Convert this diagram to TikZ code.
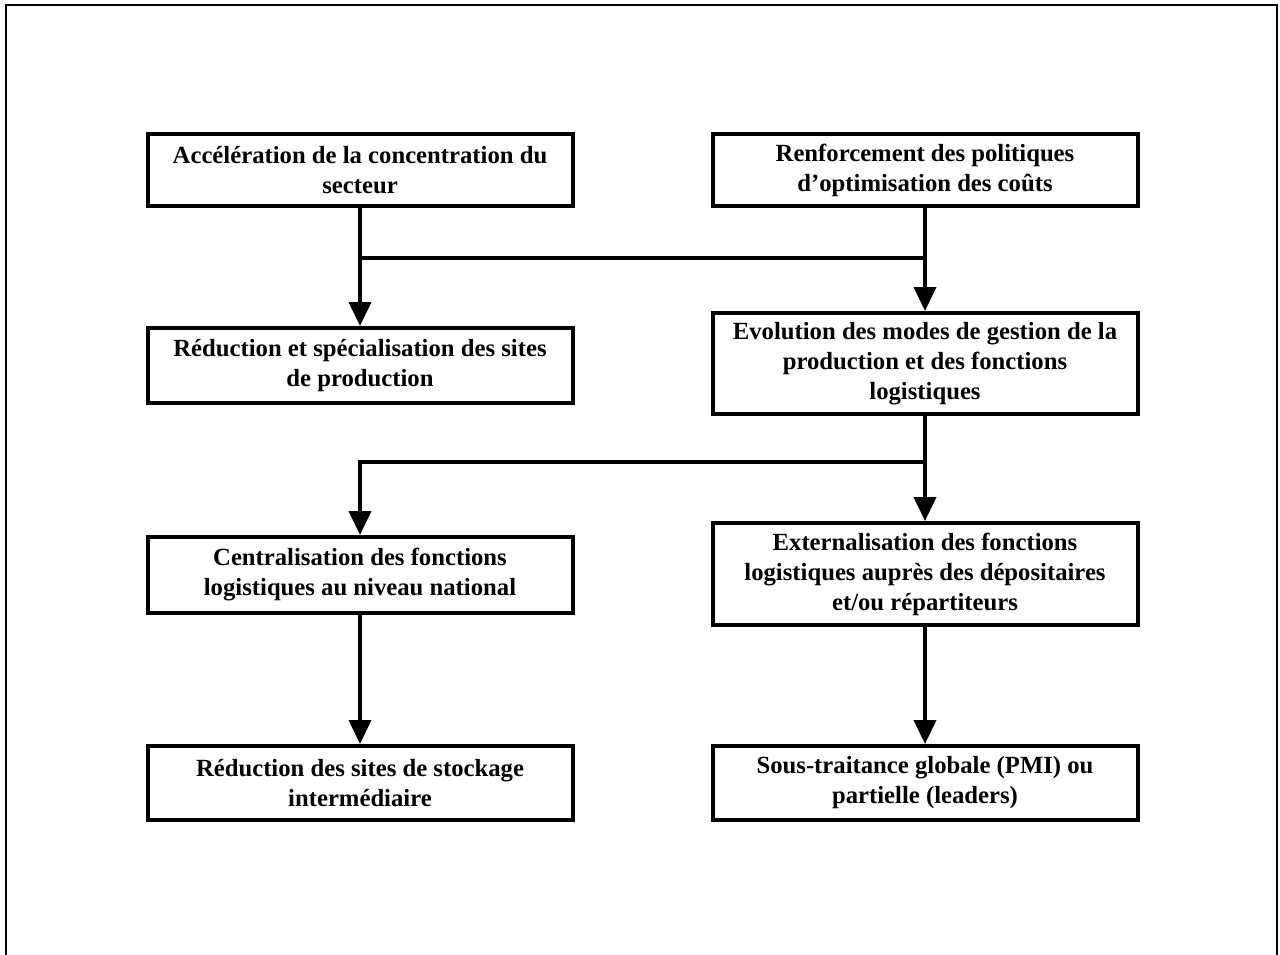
\documentclass[tikz,border=0pt]{standalone}
\usepackage{fontspec}
\setmainfont{Liberation Serif}
\usetikzlibrary{arrows.meta}

\begin{document}
\begin{tikzpicture}[x=1pt,y=-1pt,
  box/.style={draw, line width=4pt, minimum width=425pt, inner sep=0pt,
    align=center, font=\fontsize{24.7}{30}\selectfont\bfseries},
  link/.style={line width=4pt},
  flow/.style={line width=4pt, -{Triangle[width=22pt,length=24pt]}}]

\useasboundingbox (0,0) rectangle (1280,955);

% outer frame (open at the bottom)
\draw[line width=1.5pt] (6,955) -- (6,5) -- (1277,5) -- (1277,955);

% boxes
\node[box, minimum height=72pt]  (acc) at (360,170)   {Accélération de la concentration du\\secteur};
\node[box, minimum height=72pt]  (ren) at (925,170)   {Renforcement des politiques\\d’optimisation des coûts};
\node[box, minimum height=75pt]  (red) at (360,365.5) {Réduction et spécialisation des sites\\de production};
\node[box, minimum height=101pt] (evo) at (925,363.5) {Evolution des modes de gestion de la\\production et des fonctions\\logistiques};
\node[box, minimum height=76pt]  (cen) at (360,575)   {Centralisation des fonctions\\logistiques au niveau national};
\node[box, minimum height=102pt] (ext) at (925,574)   {Externalisation des fonctions\\logistiques auprès des dépositaires\\et/ou répartiteurs};
\node[box, minimum height=74pt]  (sto) at (360,783)   {Réduction des sites de stockage\\intermédiaire};
\node[box, minimum height=74pt]  (sou) at (925,783)   {Sous-traitance globale (PMI) ou\\partielle (leaders)};

% junction points
\coordinate (j1) at (360,258);
\coordinate (j2) at (925,258);
\coordinate (j3) at (925,462);
\coordinate (j4) at (360,462);

% connectors
\draw[flow] (acc.south) -- (red.north);
\draw[flow] (ren.south) -- (evo.north);
\draw[link] (j1) -- (j2);
\draw[flow] (evo.south) -- (ext.north);
\draw[flow] (j3) -- (j4) -- (cen.north);
\draw[flow] (cen.south) -- (sto.north);
\draw[flow] (ext.south) -- (sou.north);
\end{tikzpicture}
\end{document}
